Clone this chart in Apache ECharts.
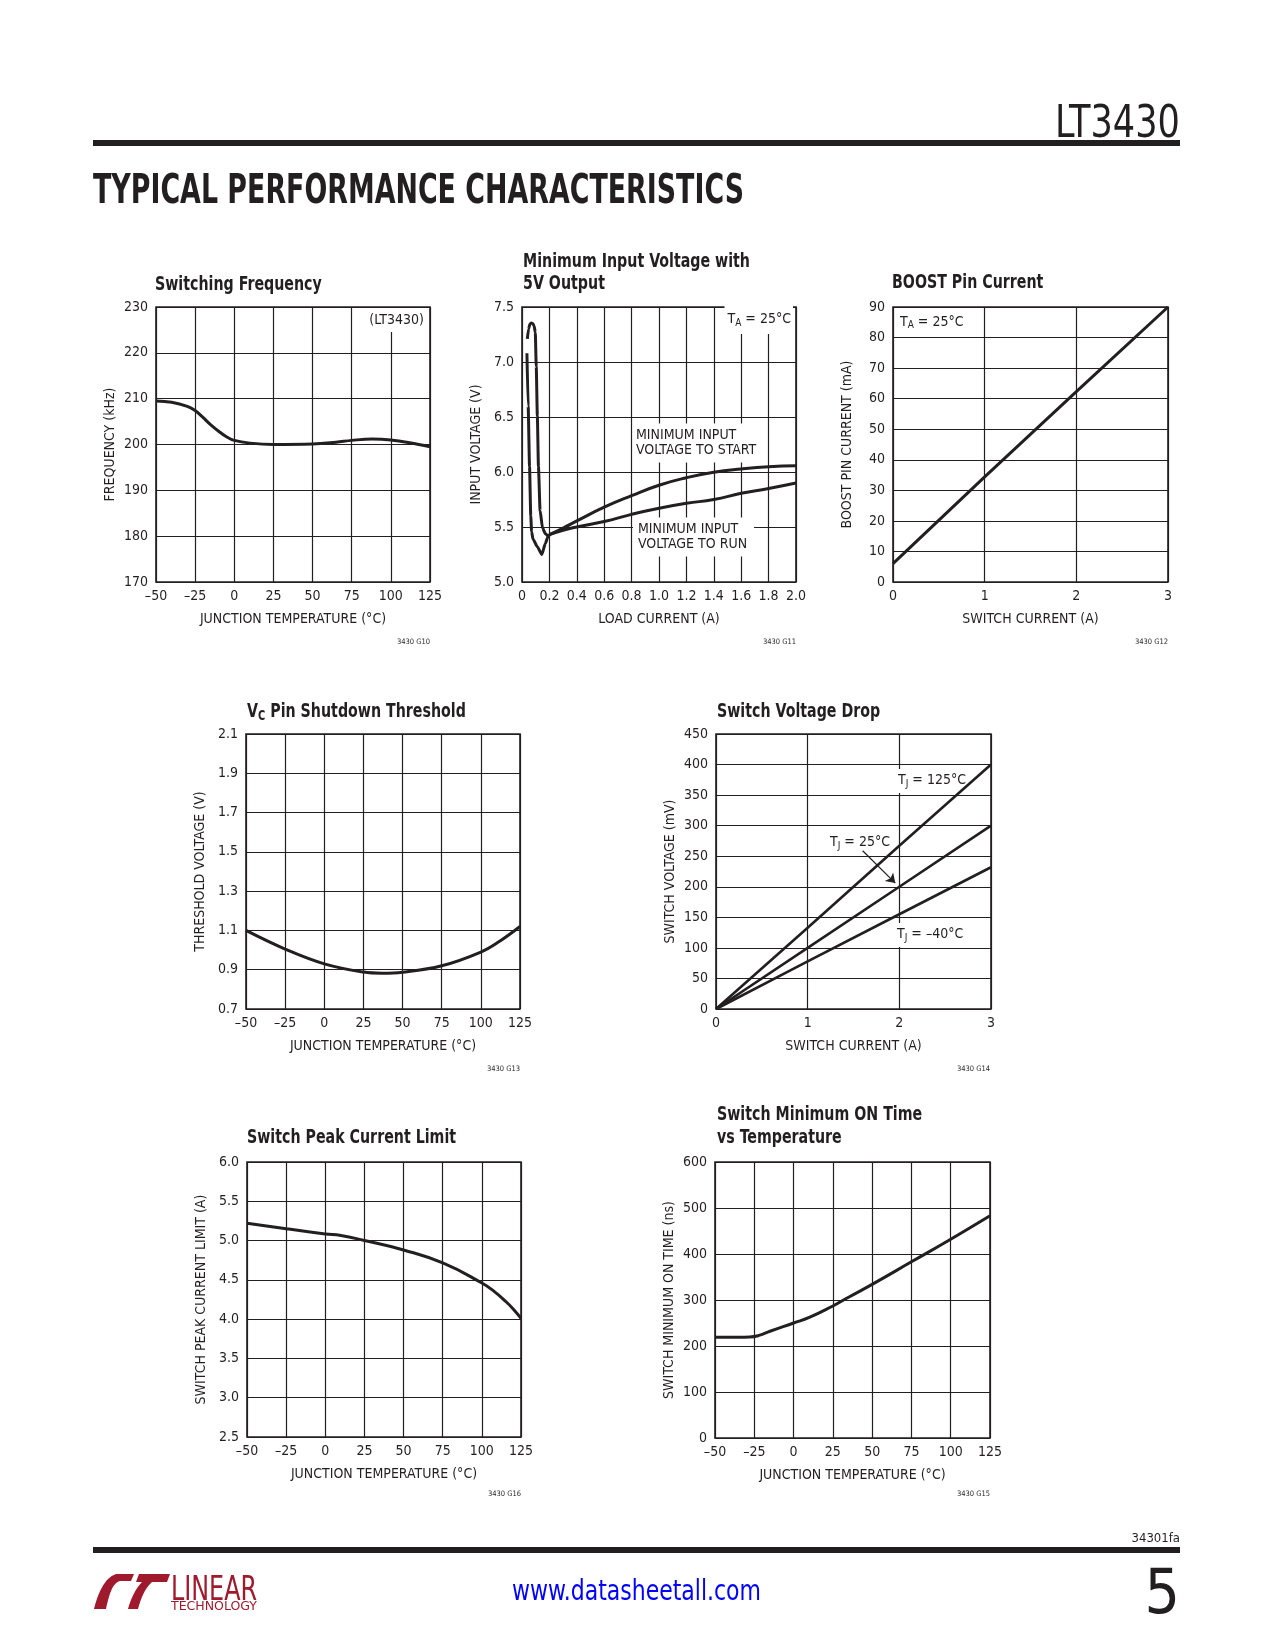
<!DOCTYPE html>
<html><head><meta charset="utf-8">
<script src="https://cdn.jsdelivr.net/npm/echarts@6/dist/echarts.min.js"></script>
<style>
html,body{margin:0;padding:0;background:#fff;}
#page{position:relative;width:1275px;height:1650px;overflow:hidden;font-family:'DejaVu Sans Condensed','Liberation Sans Narrow',sans-serif;color:#231f20;}
#chart{position:absolute;left:0;top:0;width:1275px;height:1650px;}
.abs{position:absolute;white-space:nowrap;line-height:1;}
.rule{position:absolute;left:93px;width:1087px;height:6px;background:#231f20;}
</style></head>
<body><div id="page">
<div id="chart"></div>
<div class="abs" id="part" style="right:95px;top:100px;font-size:44px;">LT3430</div>
<div class="rule" style="top:140px;"></div>
<div class="abs" id="sect" style="left:93px;top:169px;font-size:40px;font-weight:bold;">TYPICAL PERFORMANCE CHARACTERISTICS</div>
<div class="abs" id="rev" style="right:95px;top:1531px;font-size:13px;">34301fa</div>
<div class="rule" style="top:1547px;"></div>
<svg class="abs" style="left:90px;top:1568px;" width="82" height="44" viewBox="0 0 82 44">
  <path d="M4,41 C8,26 14,10 26,6 L44,6 L41,13 L30,13 C22,15 19,28 16,41 Z" fill="#a01a2e"/>
  <path d="M38,41 C41,30 46,20 52,14 L46,14 L49,6 L80,6 L77,14 L62,14 C55,20 51,30 48,41 Z" fill="#a01a2e"/>
</svg>
<div class="abs" id="lin" style="left:171px;top:1571px;font-size:34px;color:#a01a2e;">LINEAR</div>
<div class="abs" id="tech" style="left:171px;top:1599px;font-size:13px;color:#a01a2e;">TECHNOLOGY</div>
<div class="abs" id="url" style="left:512px;top:1577px;font-size:28px;color:#0000ff;">www.datasheetall.com</div>
<div class="abs" id="pg" style="right:95px;top:1561px;font-size:62px;">5</div>
</div>
<script>
// ---------------- data ----------------
const tempTicks = [-50, 125, 25];          // min, max, step (°C)
const freqRange = [170, 230, 10];
const swFreq = [[-50,209.5],[-40,209.2],[-30,208.3],[-25,207.4],[-20,205.9],[-15,204.3],[-10,202.9],[-5,201.7],[0,200.9],[10,200.3],[25,200.0],[50,200.1],[65,200.5],[75,200.9],[88,201.2],[100,201.0],[112,200.4],[125,199.5]];

const loadRange = [0, 2, 0.2];
const vinRange = [5.0, 7.5, 0.5];
const vinStartLight = [[0.039,7.21],[0.048,7.30],[0.058,7.345],[0.068,7.355],[0.078,7.35],[0.088,7.33],[0.097,7.27],[0.104,6.96],[0.112,6.51],[0.120,6.05],[0.132,5.65],[0.150,5.49],[0.170,5.44],[0.189,5.42],[0.2,5.43]];
const vinStartLoad = [[0.2,5.43],[0.3,5.49],[0.4,5.555],[0.6,5.68],[0.8,5.785],[1.0,5.88],[1.2,5.948],[1.4,5.997],[1.6,6.027],[1.8,6.048],[2.0,6.057]];
const vinRunLight = [[0.036,7.08],[0.045,6.60],[0.055,6.05],[0.064,5.60],[0.070,5.46],[0.080,5.39],[0.112,5.32],[0.145,5.25],[0.17,5.35],[0.189,5.41],[0.2,5.43]];
const vinRunLoad = [[0.2,5.43],[0.3,5.47],[0.4,5.50],[0.6,5.55],[0.8,5.615],[1.0,5.67],[1.2,5.715],[1.4,5.75],[1.6,5.806],[1.8,5.85],[2.0,5.90]];

const swCurRange = [0, 3, 1];
const boostRange = [0, 90, 10];
const boostI = [[0,6.0],[1,34.4],[2,62.3],[3,90.0]];

const vcRange = [0.7, 2.1, 0.2];
const vcThresh = [[-50,1.10],[-25,1.005],[0,0.93],[25,0.888],[37,0.882],[50,0.887],[75,0.92],[100,0.99],[112,1.045],[125,1.12]];

const vdropRange = [0, 450, 50];
const vdrop125 = [[0,0],[1,133],[2,267],[3,400]];
const vdrop25 = [[0,0],[1,100],[2,200],[3,300]];
const vdropM40 = [[0,0],[1,78],[2,155],[3,232]];

const ilimRange = [2.5, 6.0, 0.5];
const peakI = [[-50,5.22],[-25,5.15],[0,5.085],[10,5.065],[25,5.0],[50,4.88],[75,4.715],[100,4.46],[108,4.35],[115,4.23],[120,4.13],[125,4.01]];

const tonRange = [0, 600, 100];
const minOn = [[-50,219],[-35,219],[-28,219.5],[-22,223],[-15,232],[0,250],[10,262],[25,287],[35,306],[50,334],[75,383],[100,432],[125,483]];

// ---------------- layout / style ----------------
const FONT = "'DejaVu Sans Condensed','Liberation Sans Narrow',sans-serif";
const INK = '#231f20';
const grids = [
  {left:156, top:307, width:274, height:275},
  {left:522, top:307, width:274, height:275},
  {left:893, top:307, width:275, height:275},
  {left:246, top:734, width:274, height:275},
  {left:716, top:734, width:275, height:275},
  {left:247, top:1162, width:274, height:275},
  {left:715, top:1162, width:275, height:276}
];
const dash = v => String(v).replace('-', '\u2013');
const f1 = v => (Math.round(v*10)/10).toFixed(1);

function axis(kind, i, r, name, fmt) {
  const isX = kind === 'x';
  return {
    type:'value', gridIndex:i, min:r[0], max:r[1], interval:r[2],
    name:name, nameLocation:'middle', nameGap: isX ? 30 : 39,
    nameTextStyle:{fontFamily:FONT, fontSize:14, color:INK},
    axisLine:{show:false}, axisTick:{show:false},
    axisLabel:{fontFamily:FONT, fontSize:14, color:INK, margin: isX ? 7 : 8,
      padding: isX ? 0 : [5,0,0,0],
      formatter: fmt || (v => dash(v)), showMinLabel:true, showMaxLabel:true},
    splitLine:{show:true, lineStyle:{color:INK, width:1.2}}
  };
}
function line(i, data, extra) {
  return Object.assign({type:'line', xAxisIndex:i, yAxisIndex:i, data:data, showSymbol:false, symbol:'none',
    smooth:0.4, lineStyle:{color:INK, width:3}, silent:true, animation:false, z:3}, extra || {});
}
function txt(x, y, text, o) {
  o = o || {};
  const st = {x:0, y:0, text:text, fill:INK, font:(o.bold?'bold ':'') + (o.size||14) + 'px ' + FONT,
    textAlign:o.align||'left', align:o.align||'left', textVerticalAlign:o.va||'middle', verticalAlign:o.va||'middle'};
  if (o.bg) { st.backgroundColor = '#fff'; st.padding = o.pad || [3,3,3,3]; }
  if (o.lh) st.lineHeight = o.lh;
  if (o.width) st.width = o.width;
  if (o.rich) st.rich = o.rich;
  return {type:'text', x:x, y:y, scaleX:o.sx||1, z:o.z!=null?o.z:1, silent:true, style:st};
}
const richN = (sz, bold) => ({fontFamily:FONT, fontSize:sz, fontWeight:bold?'bold':'normal', fill:INK, lineHeight:sz+3});
const richS = (sz, bold) => ({fontFamily:FONT, fontSize:sz, fontWeight:bold?'bold':'normal', fill:INK, lineHeight:sz, verticalAlign:'bottom'});
const subRich = {n:richN(14), s:richS(10)};
const subRichT = {n:richN(20,true), s:richS(14,true)};
const TS = 0.79;

const xAxes = [
  axis('x',0,tempTicks,'JUNCTION TEMPERATURE (\u00B0C)'),
  axis('x',1,loadRange,'LOAD CURRENT (A)', v => v===0 ? '0' : f1(v)),
  axis('x',2,swCurRange,'SWITCH CURRENT (A)'),
  axis('x',3,tempTicks,'JUNCTION TEMPERATURE (\u00B0C)'),
  axis('x',4,swCurRange,'SWITCH CURRENT (A)'),
  axis('x',5,tempTicks,'JUNCTION TEMPERATURE (\u00B0C)'),
  axis('x',6,tempTicks,'JUNCTION TEMPERATURE (\u00B0C)')
];
const yAxes = [
  axis('y',0,freqRange,'FREQUENCY (kHz)'),
  axis('y',1,vinRange,'INPUT VOLTAGE (V)', f1),
  axis('y',2,boostRange,'BOOST PIN CURRENT (mA)'),
  axis('y',3,vcRange,'THRESHOLD VOLTAGE (V)', f1),
  axis('y',4,vdropRange,'SWITCH VOLTAGE (mV)'),
  axis('y',5,ilimRange,'SWITCH PEAK CURRENT LIMIT (A)', f1),
  axis('y',6,tonRange,'SWITCH MINIMUM ON TIME (ns)')
];

const series = [
  line(0, swFreq),
  line(1, vinStartLight, {smooth:0.2, smoothMonotone:'x'}),
  line(1, vinStartLoad, {smooth:0.5}),
  line(1, vinRunLight, {smooth:0.2, smoothMonotone:'x'}),
  line(1, vinRunLoad, {smooth:0.5}),
  line(2, boostI, {smooth:false}),
  line(3, vcThresh),
  line(4, vdrop125, {smooth:false, lineStyle:{color:INK, width:2.6}}),
  line(4, vdrop25, {smooth:false, lineStyle:{color:INK, width:2.6},
    markLine:{silent:true, animation:false, symbol:['none','arrow'], symbolSize:9, label:{show:false},
      lineStyle:{color:INK, width:1.2, type:'solid'},
      data:[[{coord:[1.60,259]},{coord:[1.956,206]}]]}}),
  line(4, vdropM40, {smooth:false, lineStyle:{color:INK, width:2.6}}),
  line(5, peakI, {smooth:0.5}),
  line(6, minOn, {smooth:0.5})
];

const graphics = [
  // titles
  txt(155, 285, 'Switching Frequency', {bold:true, size:20, sx:TS}),
  txt(523, 262, 'Minimum Input Voltage with', {bold:true, size:20, sx:TS}),
  txt(523, 284, '5V Output', {bold:true, size:20, sx:TS}),
  txt(892, 283, 'BOOST Pin Current', {bold:true, size:20, sx:TS}),
  txt(247, 712, '{n|V}{s|C}{n| Pin Shutdown Threshold}', {rich:subRichT, sx:TS}),
  txt(717, 712, 'Switch Voltage Drop', {bold:true, size:20, sx:TS}),
  txt(247, 1138, 'Switch Peak Current Limit', {bold:true, size:20, sx:TS}),
  txt(717, 1115, 'Switch Minimum ON Time', {bold:true, size:20, sx:TS}),
  txt(717, 1138, 'vs Temperature', {bold:true, size:20, sx:TS}),
  // annotations
  txt(426, 320, '(LT3430)', {align:'right', bg:true, pad:[5,2,5,3]}),
  txt(793, 320, '{n|T}{s|A}{n| = 25\u00B0C}', {align:'right', bg:true, pad:[5,2,6,3], rich:subRich}),
  txt(633, 443, 'MINIMUM INPUT\nVOLTAGE TO START', {bg:true, lh:15.5, width:114, pad:[4,2,4,3]}),
  txt(633, 537, 'MINIMUM INPUT\nVOLTAGE TO RUN', {bg:true, lh:15.5, width:114, pad:[4,2,4,5]}),
  txt(900, 322, '{n|T}{s|A}{n| = 25\u00B0C}', {rich:subRich}),
  txt(895, 781, '{n|T}{s|J}{n| = 125\u00B0C}', {bg:true, pad:[3,1,4,3], rich:subRich}),
  txt(828, 843, '{n|T}{s|J}{n| = 25\u00B0C}', {bg:true, pad:[2,1,3,2], rich:subRich}),
  txt(894, 935, '{n|T}{s|J}{n| = \u201340\u00B0C}', {bg:true, pad:[3,1,4,3], rich:subRich}),
  // figure ids
  txt(430, 642, '3430 G10', {align:'right', size:7.5}),
  txt(796, 642, '3430 G11', {align:'right', size:7.5}),
  txt(1168, 642, '3430 G12', {align:'right', size:7.5}),
  txt(520, 1069, '3430 G13', {align:'right', size:7.5}),
  txt(990, 1069, '3430 G14', {align:'right', size:7.5}),
  txt(521, 1494, '3430 G16', {align:'right', size:7.5}),
  txt(990, 1494, '3430 G15', {align:'right', size:7.5})
];

const grid = grids.map(g => Object.assign({show:true, borderColor:INK, borderWidth:1.6, backgroundColor:'transparent', containLabel:false}, g));

const chart = echarts.init(document.getElementById('chart'), null, {renderer:'canvas'});
chart.setOption({
  animation:false, backgroundColor:'#fff',
  grid:grid, xAxis:xAxes, yAxis:yAxes, series:series, graphic:graphics
});

// fit html text widths
function fit(id, w, origin) {
  const el = document.getElementById(id);
  const cw = el.getBoundingClientRect().width;
  if (cw > 0) { el.style.transform = 'scaleX(' + (w / cw) + ')'; el.style.transformOrigin = origin; }
}
fit('sect', 651, 'left center');
fit('part', 125, 'right center');
fit('lin', 86, 'left center');
fit('tech', 86, 'left center');
fit('url', 249, 'left center');
</script>
</body></html>
